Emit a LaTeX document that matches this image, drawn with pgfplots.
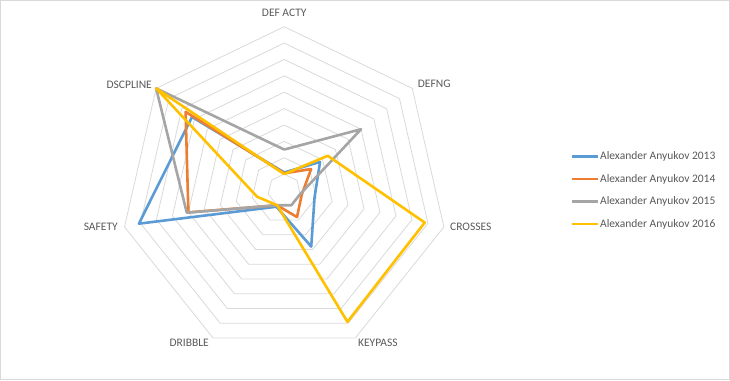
\documentclass[border=0pt]{standalone}
\usepackage{pgfplots}
\pgfplotsset{compat=1.18}
\usepackage{fontspec}
\setmainfont{Carlito}
\definecolor{c13}{HTML}{5B9BD5}
\definecolor{c14}{HTML}{ED7D31}
\definecolor{c15}{HTML}{A5A5A5}
\definecolor{c16}{HTML}{FFC000}
\definecolor{gridc}{HTML}{D9D9D9}
\definecolor{txt}{HTML}{595959}
\begin{document}
\fontsize{11.5bp}{13bp}\selectfont
\begin{tikzpicture}[x=1bp,y=1bp]
\begin{axis}[
  at={(284.2bp,189.5bp)}, anchor=center,
  scale only axis, width=360.36bp, height=360.36bp,
  xmin=-11, xmax=11, ymin=-11, ymax=11,
  hide axis, clip=false,
  every axis plot/.append style={line width=2.6bp, line join=round},
  legend image code/.code={\draw[#1, line width=2.6bp] (0bp,0bp) -- (26bp,0bp);},
  legend style={at={(axis cs:17.45,2.45)}, anchor=north west, draw=none, fill=none,
    font=\fontsize{11.5bp}{13bp}\selectfont\color{txt}, row sep=10.1bp,
    inner sep=0pt, nodes={inner sep=1.3bp}},
  legend cell align=left,
]
\pgfplotsinvokeforeach{1,...,10}{
  \addplot[forget plot, gridc, line width=0.8bp, data cs=polar] coordinates {
    (90,#1) (38.571,#1) (-12.857,#1) (-64.286,#1) (-115.714,#1) (-167.143,#1) (141.429,#1) (90,#1)};
}
% Alexander Anyukov 2013
\addplot[c13, data cs=polar] coordinates {
  (90,1.1) (38.571,2.8) (-12.857,1.9) (-64.286,3.8) (-115.714,1.1) (-167.143,9.1) (141.429,7.2) (90,1.1)};
\addlegendentry{Alexander Anyukov 2013}
% 2014
\addplot[c14, data cs=polar] coordinates {
  (90,1.05) (38.571,2.1) (-12.857,1.1) (-64.286,1.8) (-115.714,1.0) (-167.143,6.0) (141.429,7.7) (90,1.05)};
\addlegendentry{Alexander Anyukov 2014}
% 2015
\addplot[c15, data cs=polar] coordinates {
  (90,2.5) (38.571,6.0) (-12.857,1.0) (-64.286,1.0) (-115.714,1.0) (-167.143,6.1) (141.429,10) (90,2.5)};
\addlegendentry{Alexander Anyukov 2015}
% 2016
\addplot[c16, data cs=polar] coordinates {
  (90,1.0) (38.571,3.4) (-12.857,8.8) (-64.286,8.9) (-115.714,1.0) (-167.143,1.7) (141.429,10) (90,1.0)};
\addlegendentry{Alexander Anyukov 2016}
\begin{scope}[every node/.style={text=txt, inner sep=0pt, font=\fontsize{11.5bp}{13bp}\selectfont}]
\node[anchor=center] at (axis cs:0,10.84) {DEF ACTY};
\node[anchor=west] at (axis cs:8.15,6.5) {DEFNG};
\node[anchor=west] at (axis cs:10.12,-2.23) {CROSSES};
\node[anchor=west] at (axis cs:4.5,-9.31) {KEYPASS};
\node[anchor=east] at (axis cs:-4.59,-9.31) {DRIBBLE};
\node[anchor=east] at (axis cs:-10.15,-2.23) {SAFETY};
\node[anchor=east] at (axis cs:-8.07,6.44) {DSCPLINE};
\end{scope}
\end{axis}
\pgfresetboundingbox
\path[use as bounding box] (0,0) rectangle (730,380);
\draw[gridc, line width=1bp] (0.5,0.5) rectangle (729.5,379.5);
\end{tikzpicture}
\end{document}
